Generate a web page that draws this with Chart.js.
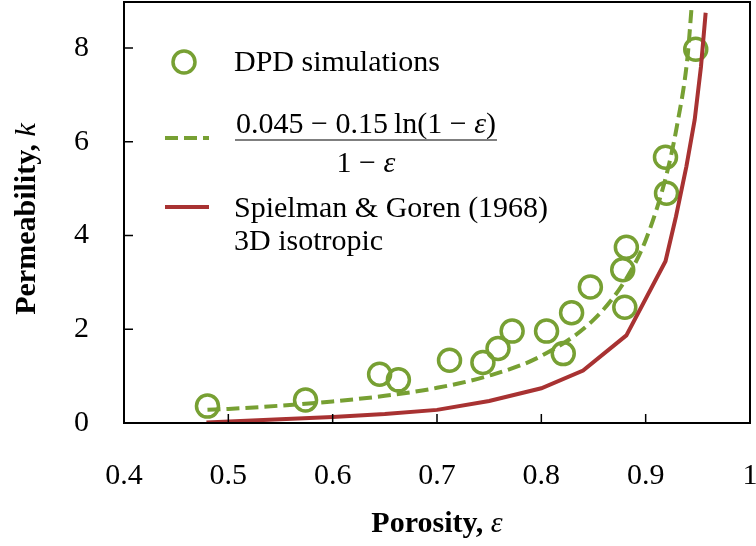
<!DOCTYPE html>
<html>
<head>
<meta charset="utf-8">
<script src="https://cdn.jsdelivr.net/npm/chart.js@4/dist/chart.umd.min.js"></script>
<style>
  body { margin: 0; background: #fff; }
</style>
</head>
<body>
<canvas id="js--chart" width="756" height="546"></canvas>
<script>
// DPD simulation points
const porosityDPD = [0.480, 0.574, 0.645, 0.663, 0.712, 0.744, 0.7585, 0.772, 0.805, 0.821, 0.829, 0.847, 0.878, 0.8815, 0.880, 0.919, 0.920, 0.948];
const permDPD = [0.36, 0.49, 1.04, 0.92, 1.34, 1.29, 1.59, 1.96, 1.96, 1.48, 2.35, 2.90, 3.27, 3.75, 2.47, 5.67, 4.90, 7.97];

// fitted curve (dashed)
const porosityFit = [0.48, 0.50, 0.55, 0.60, 0.65, 0.70, 0.75, 0.80, 0.85, 0.88, 0.90, 0.92, 0.93, 0.94, 0.944];
const permFit = [0.28, 0.30, 0.37, 0.46, 0.58, 0.75, 1.01, 1.43, 2.20, 3.03, 3.90, 5.30, 6.34, 7.78, 8.86];

// Spielman & Goren (1968)
const porositySG = [0.479, 0.55, 0.60, 0.65, 0.70, 0.75, 0.80, 0.84, 0.8815, 0.919, 0.929, 0.939, 0.947, 0.953, 0.9575];
const permSG = [0.01, 0.08, 0.13, 0.19, 0.28, 0.47, 0.74, 1.12, 1.87, 3.45, 4.40, 5.47, 6.47, 7.60, 8.75];

const xTicks = [0.4, 0.5, 0.6, 0.7, 0.8, 0.9, 1];
const yTicks = [0, 2, 4, 6, 8];

const green = '#77A033';
const red = '#A83232';
const serif = '"Liberation Serif", "Times New Roman", serif';

const toXY = (xs, ys) => xs.map((x, i) => ({ x: x, y: ys[i] }));

// box, inward ticks, legend and axis titles
const decorations = {
    id: 'decorations',
    afterDraw(chart) {
        const ctx = chart.ctx;
        const a = chart.chartArea;
        const xs = chart.scales.x;
        const ys = chart.scales.y;
        ctx.save();

        ctx.strokeStyle = '#000';
        ctx.lineWidth = 1.5;
        ctx.beginPath();
        xTicks.forEach(v => {
            const px = xs.getPixelForValue(v);
            ctx.moveTo(px, a.bottom);
            ctx.lineTo(px, a.bottom - 9);
        });
        yTicks.forEach(v => {
            const py = ys.getPixelForValue(v);
            ctx.moveTo(a.left, py);
            ctx.lineTo(a.left + 9, py);
        });
        ctx.stroke();

        ctx.lineWidth = 2;
        ctx.strokeRect(a.left, a.top, a.right - a.left, a.bottom - a.top);

        // legend
        ctx.fillStyle = '#000';
        ctx.textBaseline = 'alphabetic';
        ctx.textAlign = 'left';
        ctx.font = '30px ' + serif;

        ctx.strokeStyle = green;
        ctx.lineWidth = 3.5;
        ctx.beginPath();
        ctx.arc(184, 62, 11, 0, Math.PI * 2);
        ctx.stroke();
        ctx.fillText('DPD simulations', 234, 71);

        ctx.setLineDash([13, 6]);
        ctx.lineWidth = 4;
        ctx.beginPath();
        ctx.moveTo(165, 138);
        ctx.lineTo(209, 138);
        ctx.stroke();
        ctx.setLineDash([]);

        // fraction
        const parts = [
            ['0.045 \u2212 0.15\u2009', false],
            ['ln(1 \u2212 ', false],
            ['\u03b5', true],
            [')', false]
        ];
        let w = 0;
        parts.forEach(p => {
            ctx.font = (p[1] ? 'italic ' : '') + '30px ' + serif;
            w += ctx.measureText(p[0]).width;
        });
        let x0 = 236;
        parts.forEach(p => {
            ctx.font = (p[1] ? 'italic ' : '') + '30px ' + serif;
            ctx.fillText(p[0], x0, 133);
            x0 += ctx.measureText(p[0]).width;
        });
        ctx.strokeStyle = '#000';
        ctx.lineWidth = 1.2;
        ctx.beginPath();
        ctx.moveTo(235, 140);
        ctx.lineTo(236 + w + 1, 140);
        ctx.stroke();

        ctx.font = '30px ' + serif;
        const d1 = '1 \u2212 ';
        const d1w = ctx.measureText(d1).width;
        ctx.font = 'italic 30px ' + serif;
        const d2w = ctx.measureText('\u03b5').width;
        const dx = 236 + w / 2 - (d1w + d2w) / 2;
        ctx.font = '30px ' + serif;
        ctx.fillText(d1, dx, 172);
        ctx.font = 'italic 30px ' + serif;
        ctx.fillText('\u03b5', dx + d1w, 172);

        ctx.strokeStyle = red;
        ctx.lineWidth = 4;
        ctx.beginPath();
        ctx.moveTo(165, 207);
        ctx.lineTo(209, 207);
        ctx.stroke();
        ctx.font = '30px ' + serif;
        ctx.fillText('Spielman & Goren (1968)', 234, 217);
        ctx.fillText('3D isotropic', 234, 250);

        // x axis title
        ctx.font = 'bold 30px ' + serif;
        const xt = 'Porosity, ';
        const xtw = ctx.measureText(xt).width;
        ctx.font = 'italic 30px ' + serif;
        const ew = ctx.measureText('\u03b5').width;
        const cx = (a.left + a.right) / 2;
        ctx.font = 'bold 30px ' + serif;
        ctx.fillText(xt, cx - (xtw + ew) / 2, 532);
        ctx.font = 'italic 30px ' + serif;
        ctx.fillText('\u03b5', cx - (xtw + ew) / 2 + xtw, 532);

        // y axis title
        ctx.translate(35, 219);
        ctx.rotate(-Math.PI / 2);
        ctx.font = 'bold 30px ' + serif;
        const yt = 'Permeability, ';
        const ytw = ctx.measureText(yt).width;
        ctx.font = 'italic 30px ' + serif;
        const kw = ctx.measureText('k').width;
        ctx.font = 'bold 30px ' + serif;
        ctx.fillText(yt, -(ytw + kw) / 2, 0);
        ctx.font = 'italic 30px ' + serif;
        ctx.fillText('k', -(ytw + kw) / 2 + ytw, 0);

        ctx.restore();
    }
};

const data = {
    datasets: [
        {
            label: 'DPD simulations',
            data: toXY(porosityDPD, permDPD),
            showLine: false,
            pointRadius: 11,
            pointBorderWidth: 3.5,
            pointBorderColor: green,
            pointBackgroundColor: 'rgba(0,0,0,0)',
            order: 3
        },
        {
            label: 'fit',
            data: toXY(porosityFit, permFit),
            showLine: true,
            borderColor: green,
            borderWidth: 4,
            borderDash: [13, 6],
            pointRadius: 0,
            cubicInterpolationMode: 'monotone',
            order: 2
        },
        {
            label: 'Spielman & Goren (1968) 3D isotropic',
            data: toXY(porositySG, permSG),
            showLine: true,
            borderColor: red,
            borderWidth: 4,
            pointRadius: 0,
            order: 1
        }
    ]
};

const config = {
    type: 'scatter',
    data: data,
    options: {
        responsive: false,
        animation: false,
        layout: { autoPadding: false, padding: { top: 2, right: 6, left: 0, bottom: 0 } },
        plugins: {
            legend: { display: false },
            tooltip: { enabled: false }
        },
        scales: {
            x: {
                type: 'linear',
                min: 0.4,
                max: 1,
                grid: { display: false },
                border: { display: false },
                afterBuildTicks: s => { s.ticks = xTicks.map(v => ({ value: v })); },
                afterFit: s => {
                    s.height = 123;
                    s.paddingLeft = 0; s.paddingRight = 0;
                },
                ticks: {
                    padding: 27,
                    maxRotation: 0,
                    color: '#000',
                    font: { family: serif, size: 30 },
                    callback: v => (v === 1 ? '1' : v.toFixed(1))
                }
            },
            y: {
                type: 'linear',
                min: 0,
                max: 8.98,
                grid: { display: false },
                border: { display: false },
                afterBuildTicks: s => { s.ticks = yTicks.map(v => ({ value: v })); },
                afterFit: s => {
                    s.width = 124;
                    s.paddingTop = 0; s.paddingBottom = 0;
                },
                ticks: {
                    padding: 27,
                    color: '#000',
                    font: { family: serif, size: 30 }
                }
            }
        }
    },
    plugins: [decorations]
};

new Chart(document.getElementById('js--chart'), config);
</script>
</body>
</html>
